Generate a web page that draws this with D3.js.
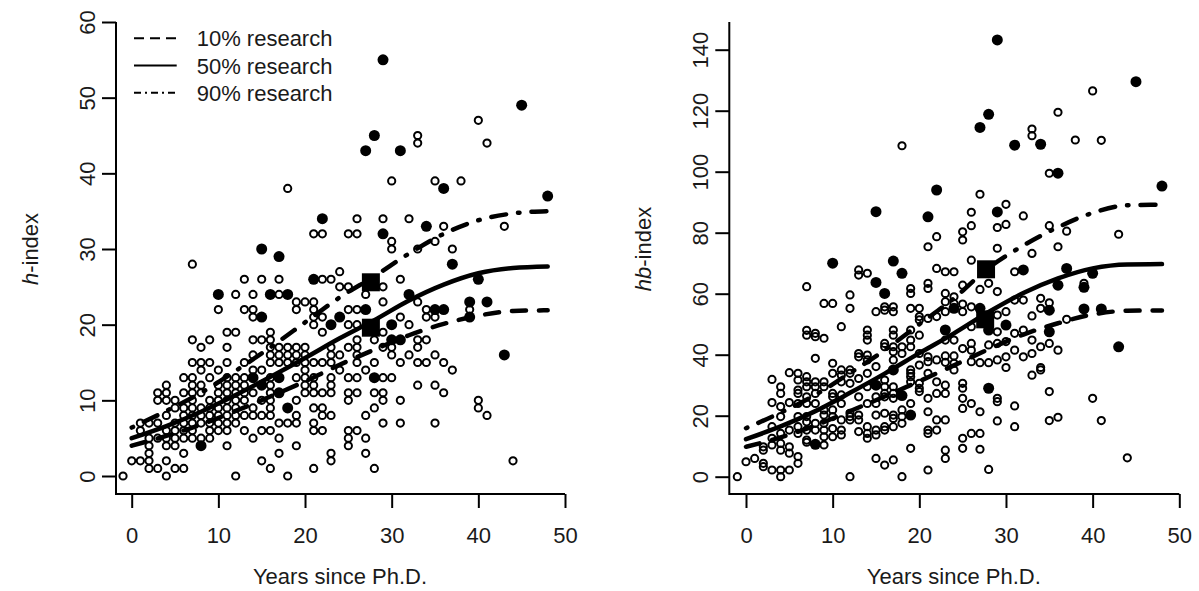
<!DOCTYPE html>
<html lang="en">
<head>
<meta charset="utf-8">
<title>h-index and hb-index vs years since Ph.D.</title>
<script src="https://cdn.jsdelivr.net/npm/d3@7"></script>
<style>
body { margin: 0; background: #fff; }
svg { font-family: "Liberation Sans", Arial, sans-serif; }
.axis text { font-size: 22px; fill: #1a1a1a; }
.axis line { stroke: #000; stroke-width: 2; }
.frame { stroke: #000; stroke-width: 2; fill: none; }
.label { font-size: 22px; fill: #1a1a1a; }
</style>
</head>
<body>
<script>

var w = 1199, h = 591;

// tick labels
var xTicks = [0, 10, 20, 30, 40, 50];
var hTicks = [0, 10, 20, 30, 40, 50, 60];
var hbTicks = [0, 20, 40, 60, 80, 100, 120, 140];

// fitted curves
var curveYears = [0, 4, 8, 12, 16, 20, 24, 28, 32, 36, 40, 44, 48];
var h10 = [4.0, 5.3, 6.8, 8.6, 10.5, 12.5, 14.7, 16.7, 18.6, 20.1, 21.2, 21.8, 21.9];
var h50 = [5.0, 6.6, 8.5, 10.7, 13.1, 15.6, 18.2, 20.6, 23.2, 25.3, 26.8, 27.5, 27.7];
var h90 = [6.4, 8.6, 11.0, 13.9, 17.0, 20.3, 23.6, 26.4, 29.4, 32.0, 33.8, 34.7, 35.0];
var hb10 = [9.8, 12.9, 16.8, 21.5, 26.3, 31.3, 36.5, 41.8, 46.6, 50.3, 53.2, 54.4, 54.5];
var hb50 = [12.3, 16.5, 21.5, 27.5, 33.8, 40.5, 47.0, 54.0, 60.2, 65.0, 68.3, 69.6, 69.7];
var hb90 = [15.9, 21.0, 26.8, 34.0, 41.5, 50.0, 58.5, 68.5, 75.8, 81.8, 86.5, 89.0, 89.2];

// highlighted person (squares)
var hSquares = [[27.6, 19.6], [27.6, 25.6]];
var hbSquares = [[27.6, 51.6], [27.7, 68.0]];

var legendLabels = ["10% research", "50% research", "90% research"];

// scatter: [year, [values...]]
var hOpen = [
  [-1, [0]], [0, [2]], [1, [2, 6, 7]], [2, [1, 2, 3, 4, 5, 7]], [3, [1, 5, 7, 10, 11]],
  [4, [0, 2, 4, 5, 6, 8, 10, 11, 12]], [5, [1, 4, 5, 6, 7, 9, 10]],
  [6, [1, 3, 5, 6, 7, 8, 9, 11, 13]], [7, [5, 6, 7, 8, 9, 10, 11, 12, 13, 15, 18, 28]],
  [8, [5, 7, 8, 9, 11, 12, 14, 15, 17]], [9, [5, 6, 7, 8, 9, 10, 13, 15, 18]],
  [10, [6, 7, 8, 9, 10, 11, 12, 14, 22]], [11, [4, 6, 7, 8, 9, 10, 11, 12, 13, 15, 17, 19]],
  [12, [0, 7, 8, 9, 10, 11, 12, 13, 19, 24]], [13, [6, 8, 10, 11, 12, 13, 15, 22, 26]],
  [14, [5, 8, 9, 11, 14, 16, 18, 21, 22, 24]], [15, [2, 6, 8, 10, 14, 18, 26]],
  [16, [1, 6, 8, 9, 10, 11, 12, 13, 15, 16, 17, 18, 19]], [17, [3, 5, 7, 15, 16, 17, 24, 26]],
  [18, [0, 7, 15, 16, 17, 38]], [19, [4, 7, 8, 10, 13, 15, 16, 17, 22, 23]],
  [20, [11, 12, 13, 14, 15, 16, 17, 23]], [21, [1, 6, 7, 9, 11, 12, 13, 15, 20, 21, 22, 23, 32]],
  [22, [6, 8, 9, 11, 15, 19, 21, 26, 32]], [23, [2, 3, 8, 11, 12, 13, 15, 16, 17, 26]],
  [24, [14, 16, 25, 27]], [25, [4, 5, 6, 10, 11, 13, 17, 20, 22, 25, 32]],
  [26, [6, 11, 13, 15, 16, 17, 18, 20, 22, 32, 34]], [27, [3, 5, 8, 14, 24]],
  [28, [1, 9, 11, 15, 18]], [29, [7, 10, 11, 13, 17, 19, 23, 25, 34]],
  [30, [13, 16, 17, 30, 31, 39]], [31, [7, 10, 15, 21, 26]], [32, [16, 20, 34]],
  [33, [12, 15, 17, 18, 23, 30, 44, 45]], [34, [15, 18, 21, 22]], [35, [7, 12, 16, 21, 31, 39]],
  [36, [11, 15, 33]], [37, [14, 30]], [38, [39]], [39, [22]], [40, [9, 10, 47]],
  [41, [8, 44]], [43, [33]], [44, [2]]
];
var hFilled = [
  [8, [4]], [10, [24]], [14, [13]], [15, [12, 21, 30]], [16, [24]], [17, [11, 13, 29]],
  [18, [9, 24]], [21, [26]], [22, [34]], [23, [20]], [24, [21]], [27, [22, 43]],
  [28, [13, 45]], [29, [32, 55]], [30, [18, 20]], [31, [18, 43]], [32, [24]], [34, [33]],
  [35, [22]], [36, [22, 38]], [37, [28]], [39, [21, 23]], [40, [26]], [41, [23]],
  [43, [16]], [45, [49]], [48, [37]]
];
var hbOpen = [
  [-1, [0]], [0, [4.9]], [1, [6.0]], [2, [3.3, 4.4, 8.7, 9.8]],
  [3, [2.2, 10.4, 12.6, 16.4, 24.3, 31.9]], [4, [0, 2.2, 8.7, 10.9, 14.2, 19.7, 23, 27.3, 29.5]],
  [5, [2.2, 7.7, 9.8, 15.3, 24.3, 34.1]], [6, [4.4, 6.6, 14.2, 16.4, 19.7, 24, 27.3, 28.4, 31.7, 33.9]],
  [7, [11.3, 12, 15.3, 18, 19.7, 24, 26.2, 29.5, 31.1, 32.8, 46.4, 48, 62.3]],
  [8, [15.3, 17.5, 24, 27.3, 29.5, 31.1, 38.8, 45.9, 47]],
  [9, [10.4, 13.1, 15.3, 17.5, 20.2, 21.9, 29.5, 31.1, 45.4, 56.8]],
  [10, [13.1, 15.8, 19.7, 21.9, 26.2, 27.3, 33.9, 37.2, 56.8]],
  [11, [13.7, 15.3, 18.6, 24, 26.8, 31.1, 33.3, 35, 49.2]],
  [12, [0, 18.6, 19.7, 20.8, 30.6, 33.9, 35, 55.2, 59.6]],
  [13, [14.8, 18.6, 20.2, 26.2, 32.2, 39.3, 40.4, 66.1, 67.8]],
  [14, [12.6, 14.2, 16.4, 24, 29.5, 33.9, 38.3, 39.9, 44.8, 46.4, 48.1, 66.7]],
  [15, [6, 13.7, 15.3, 20.2, 24, 26.2, 36.1, 54.1]],
  [16, [3.8, 15.3, 16.4, 20.8, 26.2, 27.3, 29.5, 31.7, 42.6, 43.7, 54.6, 55.7]],
  [17, [5.5, 16.4, 19.1, 20.2, 25.7, 27.3, 29.5, 38.3, 41, 42.6, 46.4, 48.1, 54.1, 55.7]],
  [18, [0, 17.5, 19.7, 21.9, 40.4, 42.6, 108.5]],
  [19, [9.3, 24, 31.1, 32.8, 33.9, 35, 42.6, 44.8, 48.1, 55.2, 60.1, 61.7]],
  [20, [27.9, 29, 30.6, 36.6, 40.4, 46.4, 51.4, 52.5, 55.2]],
  [21, [2.2, 14.2, 15.3, 21.3, 25.7, 33.9, 37.7, 39.3, 51.9, 61.7, 63.4, 75.4]],
  [22, [15.3, 18.6, 27.3, 31.1, 38.3, 52.5, 68.3, 78.7]],
  [23, [6, 8.7, 18.6, 27.3, 30, 37.5, 39.6, 44.8, 54.1, 57.4, 60.1, 67.2]],
  [24, [35, 37.2, 39.6, 44.8, 56.8, 59, 67.2]],
  [25, [9.3, 12.6, 22.4, 25.7, 29, 30.6, 42, 54.1, 56.6, 62.8, 77.6, 80.3]],
  [26, [14.2, 24, 37.7, 41.5, 43.7, 49.2, 55.7, 71, 82.3, 86.7]],
  [27, [9, 14.2, 21.3, 37.4, 61.4, 92.6]], [28, [2.4, 37.4, 43.2, 63.4]],
  [29, [18.3, 24.6, 25.7, 38.3, 43.7, 47.5, 53, 60.7, 74.9, 81.7]],
  [30, [35.8, 39.3, 44.3, 54.1, 82.7, 89.3]], [31, [16.4, 23.2, 41.5, 47, 57.9, 67.2]],
  [32, [39.3, 48.1, 57.9, 85.5]], [33, [33.3, 40.4, 44.8, 52.7, 73.2, 111.8, 114]],
  [34, [35, 35.8, 42.6, 55.2, 58.5]], [35, [18.4, 27.9, 43.7, 57, 82.3, 99.5]],
  [36, [19.5, 41.5, 75.4, 119.5]], [37, [51.6, 80.5]], [38, [110.4]], [39, [63.4]],
  [40, [25.7, 126.5]], [41, [18.4, 110.3]], [43, [79.5]], [44, [6.2]]
];
var hbFilled = [
  [8, [10.6]], [10, [70]], [15, [30, 63.7, 86.9]], [16, [60.1]], [17, [35, 70.7]],
  [18, [26.6, 66.7]], [19, [20.2]], [21, [85.2]], [22, [94]], [23, [48.1]], [24, [55.2]],
  [27, [55.2, 114.5]], [28, [29, 48.1, 118.8]], [29, [86.8, 143.2]], [30, [49.7]],
  [31, [108.7]], [32, [67.8]], [34, [109]], [35, [47.5, 54.6]], [36, [62.8, 99.5]],
  [37, [68.3]], [39, [55, 62.1]], [40, [66.7]], [41, [55]], [43, [42.6]],
  [45, [129.5]], [48, [95.3]]
];

//Flatten [year, [values]] rows to points
function flatten(rows) {
  var out = [];
  rows.forEach(function(r) {
    r[1].forEach(function(v) { out.push([r[0], v]); });
  });
  return out;
}

var svg = d3.select("body")
  .append("svg")
  .attr("width", w)
  .attr("height", h);

// line styles: dashed / solid / dot-dash
var curveDash = ["14,13", null, "1.5,12,15,12"];
var legendDash = ["10,6", null, "7,4,2,4"];

function drawPanel(p) {
  var g = svg.append("g");

  var xScale = d3.scaleLinear().domain([0, 50]).range([p.x0, p.x50]);
  var yScale = d3.scaleLinear().domain([0, p.yMax]).range([p.y0, p.yTop]);

  //L-shaped frame
  g.append("path")
    .attr("class", "frame")
    .attr("d", "M" + p.axisX + ",22 V494 H" + p.x50);

  //Y axis
  var yAxis = d3.axisLeft(yScale).tickValues(p.yTicks).tickSize(14).tickSizeOuter(0);
  var gy = g.append("g")
    .attr("class", "axis")
    .attr("transform", "translate(" + p.axisX + ",0)")
    .call(yAxis);
  gy.select(".domain").remove();
  gy.selectAll("text")
    .attr("x", 0)
    .attr("y", -21)
    .attr("dy", 0)
    .attr("text-anchor", "middle")
    .attr("transform", "rotate(-90)");

  //X axis
  var xAxis = d3.axisBottom(xScale).tickValues(xTicks).tickSize(14).tickSizeOuter(0);
  var gx = g.append("g")
    .attr("class", "axis")
    .attr("transform", "translate(0,494)")
    .call(xAxis);
  gx.select(".domain").remove();
  gx.selectAll("text").attr("y", 49).attr("dy", 0);

  //Axis titles
  g.append("text")
    .attr("class", "label")
    .attr("x", (p.axisX + p.x50) / 2 - 0.5)
    .attr("y", 584)
    .attr("text-anchor", "middle")
    .text("Years since Ph.D.");

  var yt = g.append("text")
    .attr("class", "label")
    .attr("text-anchor", "middle")
    .attr("transform", "translate(" + (p.axisX - 78) + ",249) rotate(-90)");
  yt.append("tspan").style("font-style", "italic").text(p.yItalic);
  yt.append("tspan").text("-index");

  //Points
  g.selectAll("circle.open")
    .data(flatten(p.open))
    .enter()
    .append("circle")
    .attr("class", "open")
    .attr("cx", function(d) { return xScale(d[0]); })
    .attr("cy", function(d) { return yScale(d[1]); })
    .attr("r", 3.6)
    .attr("fill", "none")
    .attr("stroke", "#000")
    .attr("stroke-width", 2);

  g.selectAll("circle.filled")
    .data(flatten(p.filled))
    .enter()
    .append("circle")
    .attr("class", "filled")
    .attr("cx", function(d) { return xScale(d[0]); })
    .attr("cy", function(d) { return yScale(d[1]); })
    .attr("r", 5.5)
    .attr("fill", "#000");

  //Curves
  var line = d3.line()
    .x(function(d, i) { return xScale(curveYears[i]); })
    .y(function(d) { return yScale(d); })
    .curve(d3.curveMonotoneX);

  p.curves.forEach(function(c, i) {
    g.append("path")
      .attr("d", line(c))
      .attr("fill", "none")
      .attr("stroke", "#000")
      .attr("stroke-width", 4.5)
      .attr("stroke-linecap", "round")
      .attr("stroke-dasharray", curveDash[i]);
  });

  //Squares
  g.selectAll("rect.sq")
    .data(p.squares)
    .enter()
    .append("rect")
    .attr("class", "sq")
    .attr("x", function(d) { return xScale(d[0]) - 9; })
    .attr("y", function(d) { return yScale(d[1]) - 9; })
    .attr("width", 18)
    .attr("height", 18)
    .attr("fill", "#000");
}

drawPanel({
  axisX: 116, x0: 131.7, x50: 565,
  y0: 476, yTop: 22, yMax: 60, yTicks: hTicks, yItalic: "h",
  open: hOpen, filled: hFilled, squares: hSquares,
  curves: [h10, h50, h90]
});

drawPanel({
  axisX: 729.3, x0: 746, x50: 1179.3,
  y0: 476.7, yTop: 49.7, yMax: 140, yTicks: hbTicks, yItalic: "hb",
  open: hbOpen, filled: hbFilled, squares: hbSquares,
  curves: [hb10, hb50, hb90]
});

//Legend
var legend = svg.append("g");
legendLabels.forEach(function(lab, i) {
  var ly = 38.3 + i * 27.2;
  legend.append("line")
    .attr("x1", 134).attr("x2", 176.7)
    .attr("y1", ly).attr("y2", ly)
    .attr("stroke", "#000")
    .attr("stroke-width", 2)
    .attr("stroke-dasharray", legendDash[i]);
  legend.append("text")
    .attr("class", "label")
    .attr("x", 196.7)
    .attr("y", ly + 8)
    .text(lab);
});

</script>
</body>
</html>
